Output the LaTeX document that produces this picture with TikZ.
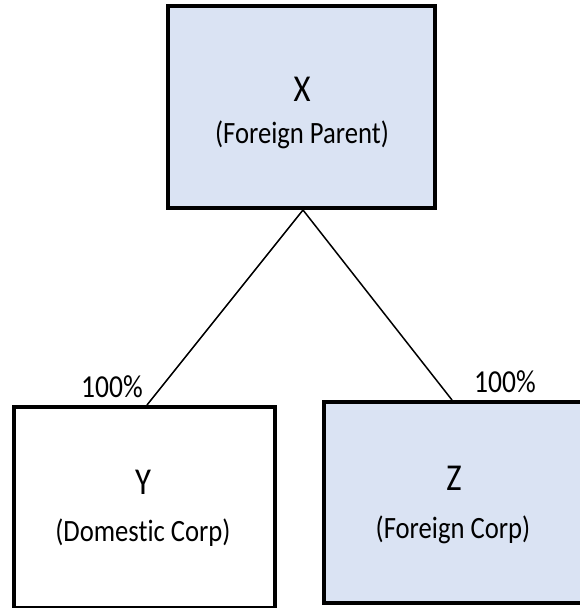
\documentclass[tikz,border=0pt]{standalone}
\usepackage{fontspec}
\setmainfont{Carlito}[FakeStretch=0.86,Ligatures=NoCommon]
\begin{document}
\begin{tikzpicture}[x=1pt,y=-1pt,
  entity/.style={draw=black,line width=4pt,rectangle,inner sep=0pt},
  foreign/.style={entity,fill=boxblue},
  domestic/.style={entity,fill=white},
  title/.style={font=\fontsize{38}{42}\selectfont,inner sep=0pt},
  sub/.style={font=\fontsize{31}{36}\selectfont,inner sep=0pt},
  share/.style={font=\fontsize{32}{36}\selectfont,inner sep=0pt},
  link/.style={draw=black,line width=1.5pt}]
\definecolor{boxblue}{HTML}{DAE3F3}
\useasboundingbox (0,0) rectangle (579,608);
% parent and subsidiaries
\node[foreign, minimum width=267pt, minimum height=202pt] (X) at (301.5,107) {};
\node[domestic, minimum width=261pt, minimum height=201pt] (Y) at (144.5,507.5) {};
\node[foreign, minimum width=266pt, minimum height=201pt] (Z) at (457,502.5) {};
% labels inside boxes
\node[title] (xt) at (302,89) {X};
\node[sub] (xs) at (302,135) {(Foreign Parent)};
\node[title] (yt) at (143,482) {Y};
\node[sub] (ys) at (143,533) {(Domestic Corp)};
\node[title] (zt) at (454,478) {Z};
\node[sub] (zs) at (453,530) {(Foreign Corp)};
% ownership lines
\coordinate (apex) at (303,210);
\coordinate (ytop) at (147,405);
\coordinate (ztop) at (452,400);
\draw[link] (apex) -- (ytop);
\draw[link] (apex) -- (ztop);
% ownership percentages
\node[share] (py) at (112,387) {100\%};
\node[share] (pz) at (505,382) {100\%};
\end{tikzpicture}
\end{document}
